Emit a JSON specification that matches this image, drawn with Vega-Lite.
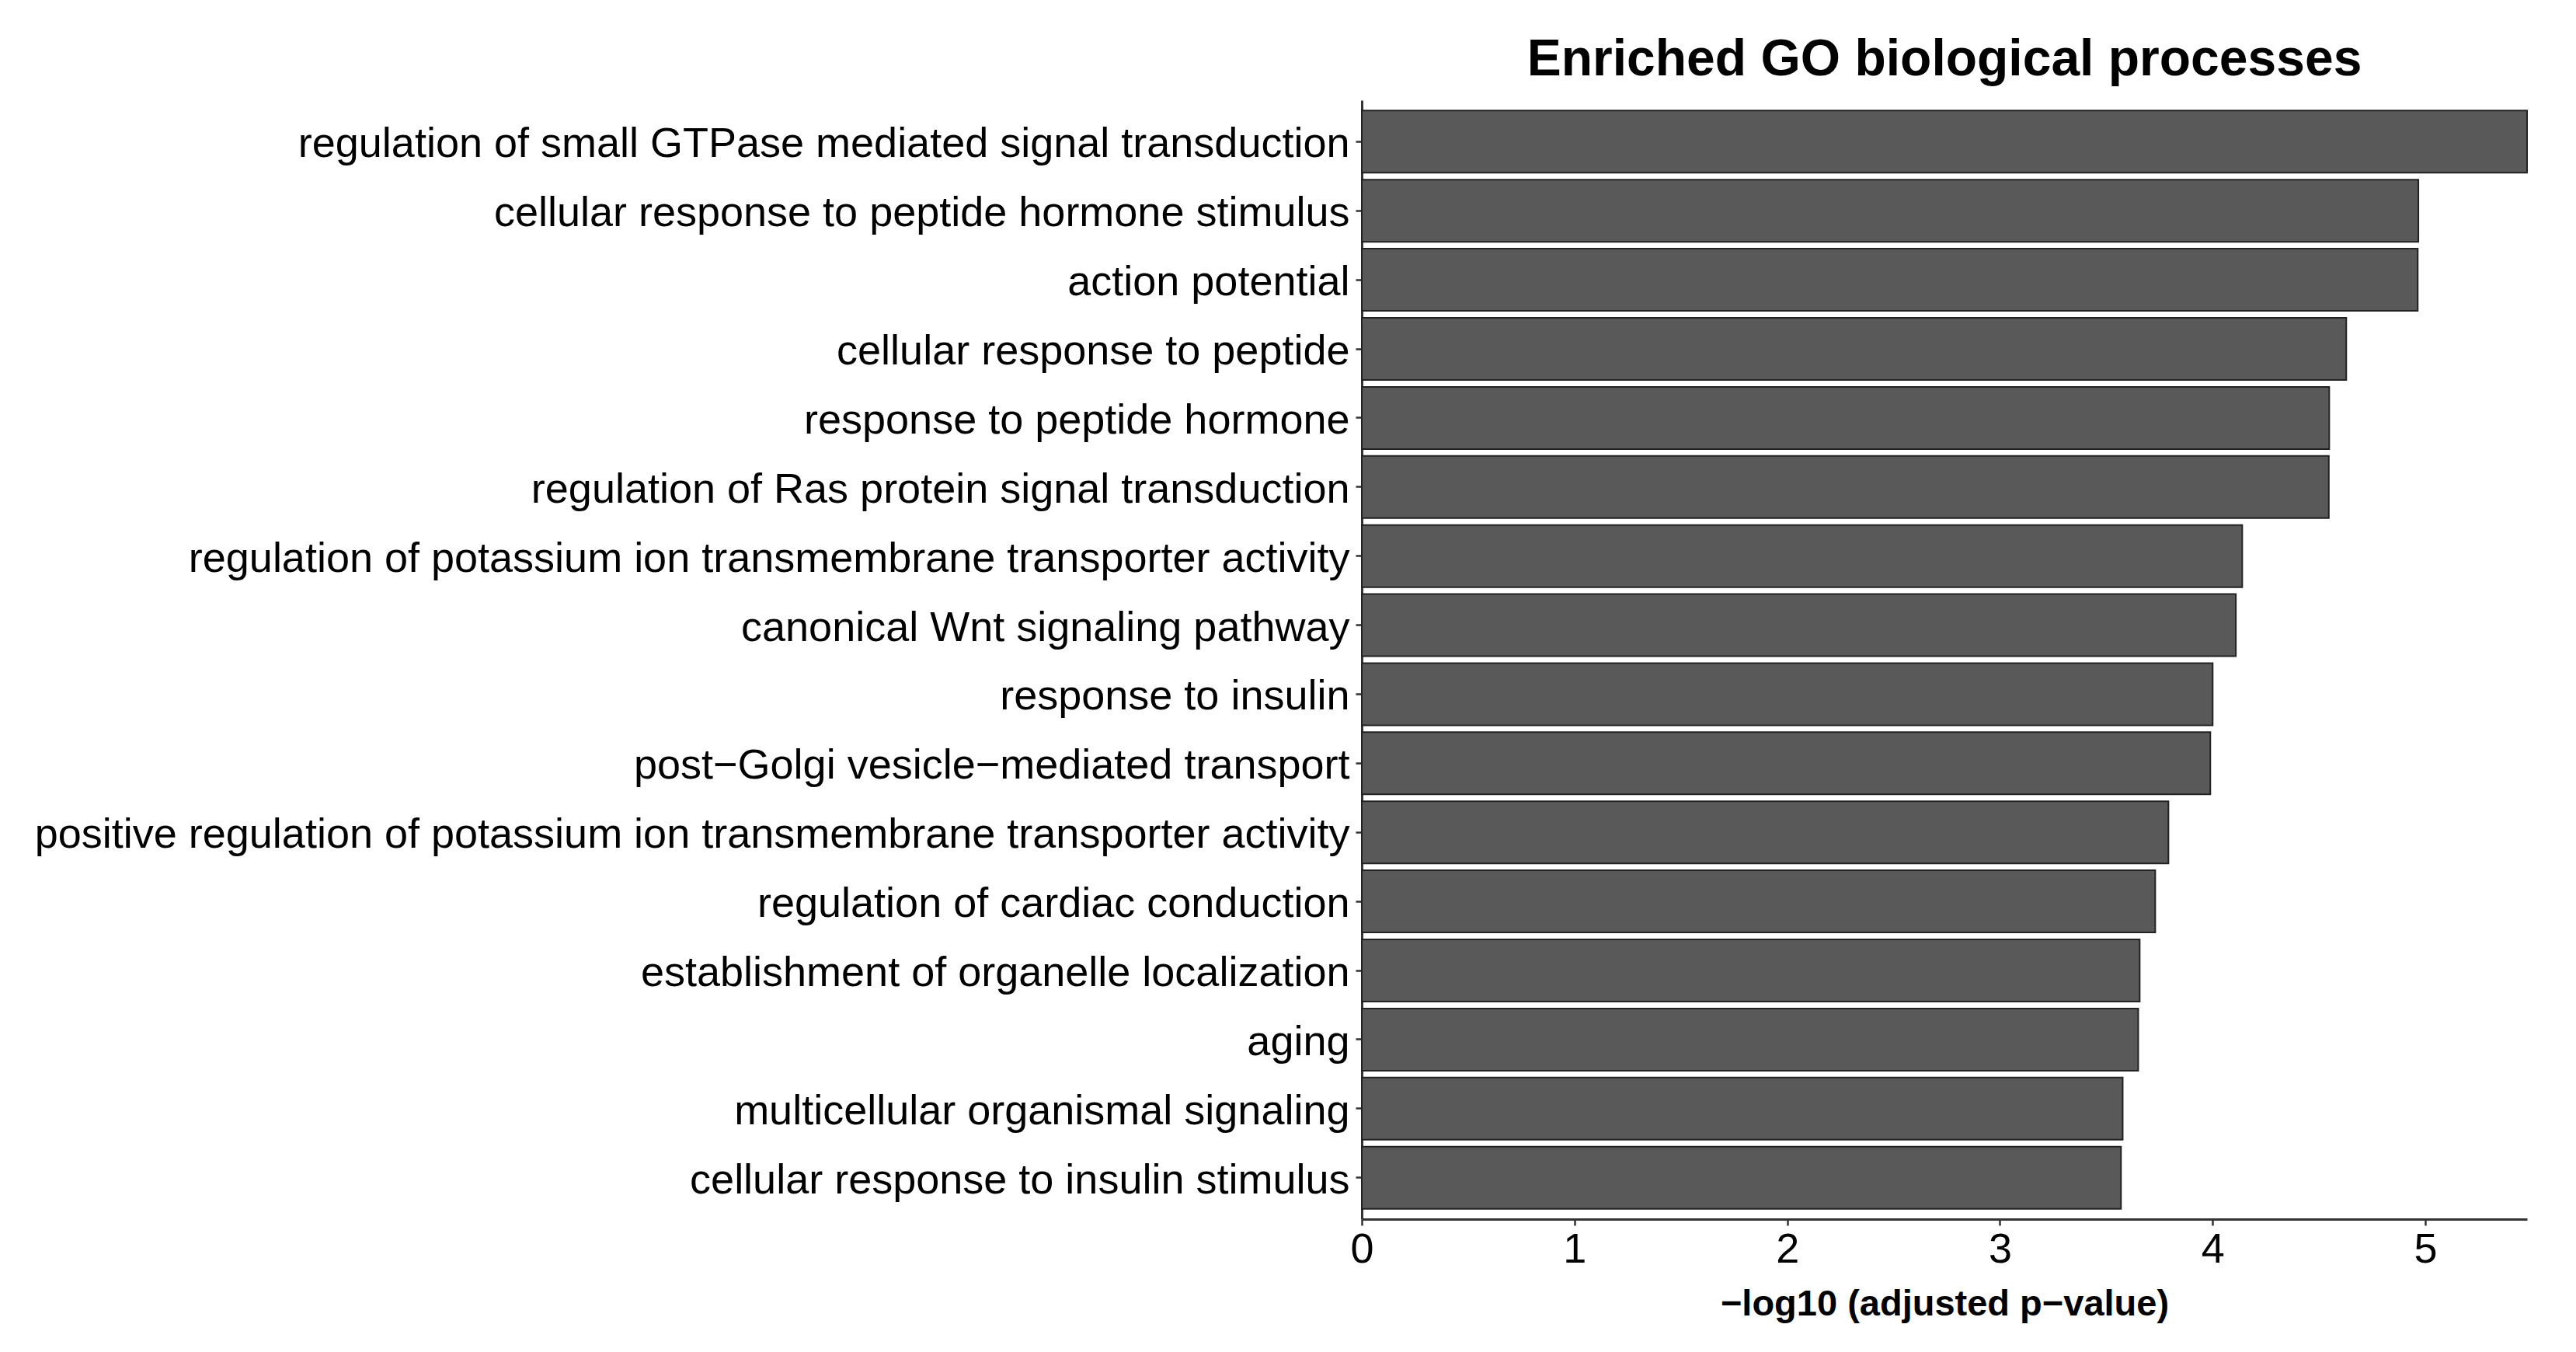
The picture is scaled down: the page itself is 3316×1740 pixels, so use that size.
{
  "$schema": "https://vega.github.io/schema/vega-lite/v6.json",
  "autosize": {"type": "none"},
  "padding": {"left": 1753, "top": 129, "right": 63, "bottom": 171},
  "width": 1500,
  "height": 1440,
  "background": "white",
  "title": {
    "text": "Enriched GO biological processes",
    "font": "Liberation Sans",
    "fontSize": 66,
    "fontWeight": "bold",
    "color": "black",
    "anchor": "middle",
    "offset": 18
  },
  "data": {
    "values": [
      {"term": "regulation of small GTPase mediated signal transduction", "value": 5.478},
      {"term": "cellular response to peptide hormone stimulus", "value": 4.967},
      {"term": "action potential", "value": 4.964},
      {"term": "cellular response to peptide", "value": 4.628},
      {"term": "response to peptide hormone", "value": 4.548},
      {"term": "regulation of Ras protein signal transduction", "value": 4.546},
      {"term": "regulation of potassium ion transmembrane transporter activity", "value": 4.139},
      {"term": "canonical Wnt signaling pathway", "value": 4.109},
      {"term": "response to insulin", "value": 4.0},
      {"term": "post\u2212Golgi vesicle\u2212mediated transport", "value": 3.989},
      {"term": "positive regulation of potassium ion transmembrane transporter activity", "value": 3.792},
      {"term": "regulation of cardiac conduction", "value": 3.73},
      {"term": "establishment of organelle localization", "value": 3.657},
      {"term": "aging", "value": 3.65},
      {"term": "multicellular organismal signaling", "value": 3.577},
      {"term": "cellular response to insulin stimulus", "value": 3.569}
    ]
  },
  "mark": {"type": "bar", "fill": "#595959", "stroke": "#222222", "strokeWidth": 2},
  "encoding": {
    "y": {
      "field": "term",
      "type": "nominal",
      "sort": null,
      "scale": {"paddingInner": 0.1, "paddingOuter": 0.15},
      "axis": {
        "title": null,
        "labelFont": "Liberation Sans",
        "labelFontSize": 54,
        "labelColor": "black",
        "labelLimit": 2000,
        "labelOffset": 4,
        "tickSize": 8,
        "tickWidth": 2.5,
        "tickColor": "#333333",
        "labelPadding": 8,
        "domainColor": "#333333",
        "domainWidth": 3,
        "grid": false
      }
    },
    "x": {
      "field": "value",
      "type": "quantitative",
      "scale": {"domain": [0, 5.478], "nice": false, "zero": true},
      "axis": {
        "title": "\u2212log10 (adjusted p\u2212value)",
        "titleFont": "Liberation Sans",
        "titleFontSize": 47,
        "titleFontWeight": "bold",
        "titleColor": "black",
        "titlePadding": 20,
        "values": [0, 1, 2, 3, 4, 5],
        "format": "d",
        "labelFont": "Liberation Sans",
        "labelFontSize": 54,
        "labelColor": "black",
        "labelFlush": false,
        "labelPadding": 4,
        "tickSize": 8,
        "tickWidth": 2.5,
        "tickColor": "#333333",
        "domainColor": "#333333",
        "domainWidth": 3,
        "grid": false
      }
    }
  },
  "config": {"view": {"stroke": null}}
}
